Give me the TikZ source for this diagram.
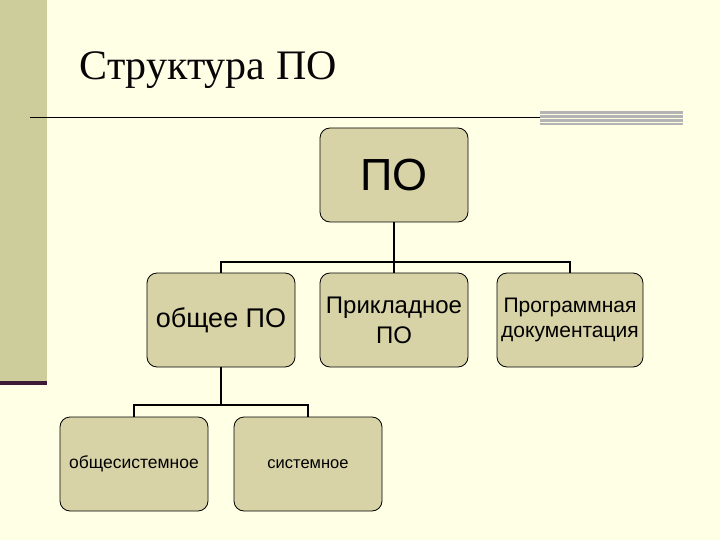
\documentclass[tikz,border=0pt]{standalone}
\usepackage{fontspec}
\setmainfont{Liberation Sans}
\newfontfamily\titlefont{Liberation Serif}
\definecolor{bgc}{HTML}{FFFFE6}
\definecolor{band}{HTML}{CDCD9C}
\definecolor{boxc}{HTML}{D7D3A6}
\definecolor{darkp}{HTML}{3D1A33}
\definecolor{barc}{HTML}{B4B4B4}
\begin{document}
\begin{tikzpicture}[x=1pt,y=-1pt,
  box/.style={draw=black,fill=boxc,rounded corners=10pt,minimum width=148pt,minimum height=94pt,align=center,inner sep=1pt,line width=0.8pt},
  conn/.style={draw=black,line width=1.5pt}]
\fill[bgc] (0,0) rectangle (720,540);
\useasboundingbox (0,0) rectangle (720,540);
\fill[band] (0,0) rectangle (47,383);
\fill[darkp] (0,381) rectangle (47,385);
\draw[black,line width=1pt] (30,118) -- (540,118);
\fill[barc] (540,111) rectangle (683,125);
\foreach \yy in {114,118,122}{\draw[bgc,line width=0.6pt] (540,\yy) -- (683,\yy);}
\node[anchor=west,font=\titlefont\fontsize{42}{48}\selectfont,text=black!85!darkp] (title) at (76,70) {Структура ПО};
\node[box,font=\fontsize{45}{50}\selectfont] (po) at (394,175) {ПО};
\node[box,font=\fontsize{27}{30}\selectfont] (ob) at (221,320) {общее ПО};
\node[box,font=\fontsize{24}{30}\selectfont] (pr) at (394,320) {Прикладное\\ПО};
\node[box,minimum width=146pt,font=\fontsize{21}{25}\selectfont] (doc) at (570,320) {Программная\\документация};
\node[box,font=\fontsize{17.5}{20}\selectfont] (os) at (134,464) {общесистемное};
\node[box,font=\fontsize{16.5}{20}\selectfont] (si) at (308,464) {системное};
\coordinate (j1) at (394,262);
\coordinate (j2) at (221,405);
\draw[conn] (po.south) -- (j1);
\draw[conn] (j1) -| (ob.north);
\draw[conn] (j1) -- (pr.north);
\draw[conn] (j1) -| (doc.north);
\draw[conn] (ob.south) -- (j2);
\draw[conn] (j2) -| (os.north);
\draw[conn] (j2) -| (si.north);
\end{tikzpicture}
\end{document}
